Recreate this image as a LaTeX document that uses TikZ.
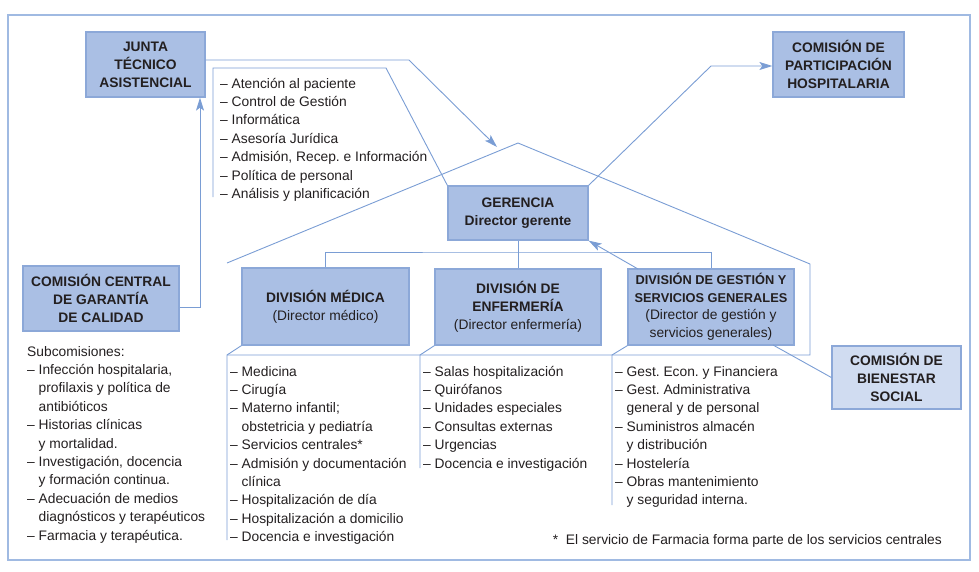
\documentclass[tikz,border=0pt]{standalone}
\usepackage{fontspec}
\setmainfont{Liberation Sans}
\usetikzlibrary{arrows.meta}
\definecolor{boxfill}{RGB}{170,191,228}
\definecolor{boxdraw}{RGB}{140,168,216}
\definecolor{lightfill}{RGB}{208,220,241}
\definecolor{linec}{RGB}{122,157,212}
\definecolor{framec}{RGB}{160,186,226}
\definecolor{txt}{RGB}{35,31,32}
\newcommand\hangin{\hphantom{– }}
\frenchspacing
\begin{document}
\begin{tikzpicture}[x=1pt,y=-1pt,
  box/.style={draw=boxdraw, line width=1.3pt, fill=boxfill, align=center, inner sep=0pt,
    text=txt, font=\fontsize{13.8}{18}\selectfont},
  conn/.style={draw=linec, line width=0.9pt},
  arr/.style={conn, -{Stealth[length=13pt,width=8pt,inset=3pt]}},
  lst/.style={align=left, anchor=north west, inner sep=0pt, text=txt,
    font=\fontsize{13.8}{18.4}\selectfont}]
\useasboundingbox (0,0) rectangle (979,572);
\draw[framec, line width=1.2pt] (8,15) rectangle (970,560);

% boxes
\node[box, minimum width=119pt, minimum height=65pt] (junta) at (145.5,64.5)
  {\textbf{JUNTA}\\\textbf{TÉCNICO}\\\textbf{ASISTENCIAL}};
\node[box, minimum width=131pt, minimum height=65pt] (partic) at (838.5,64.5)
  {\textbf{COMISIÓN DE}\\\textbf{PARTICIPACIÓN}\\\textbf{HOSPITALARIA}};
\node[box, minimum width=140pt, minimum height=54pt] (ger) at (518,213)
  {\textbf{GERENCIA}\\\textbf{Director gerente}};
\node[box, minimum width=156pt, minimum height=65pt] (central) at (101,298.5)
  {\textbf{COMISIÓN CENTRAL}\\\textbf{DE GARANTÍA}\\\textbf{DE CALIDAD}};
\node[box, minimum width=167pt, minimum height=77pt] (med) at (325.5,306.5)
  {\textbf{DIVISIÓN MÉDICA}\\(Director médico)};
\node[box, minimum width=166pt, minimum height=76pt] (enf) at (518,307)
  {\textbf{DIVISIÓN DE}\\\textbf{ENFERMERÍA}\\(Director enfermería)};
\node[box, minimum width=166pt, minimum height=76pt, font=\fontsize{13.8}{17.5}\selectfont] (gest) at (711,307)
  {{\fontsize{12.8}{17.5}\selectfont\textbf{DIVISIÓN DE GESTIÓN Y}}\\{\fontsize{12.8}{17.5}\selectfont\textbf{SERVICIOS GENERALES}}\\(Director de gestión y\\servicios generales)};
\node[box, fill=lightfill, minimum width=129pt, minimum height=63pt] (bien) at (896.5,377.5)
  {\textbf{COMISIÓN DE}\\\textbf{BIENESTAR}\\\textbf{SOCIAL}};

% lists
\node[lst] (staff) at (220,75.1) {\strut– Atención al paciente\\– Control de Gestión\\– Informática\\– Asesoría Jurídica\\– Admisión, Recep. e Información\\– Política de personal\\– Análisis y planificación};
\node[lst] (subc) at (27,343.1) {\strut Subcomisiones:\\– Infección hospitalaria,\\\hangin profilaxis y política de\\\hangin antibióticos\\– Historias clínicas\\\hangin y mortalidad.\\– Investigación, docencia\\\hangin y formación continua.\\– Adecuación de medios\\\hangin diagnósticos y terapéuticos\\– Farmacia y terapéutica.};
\node[lst] (medl) at (230,363.1) {\strut– Medicina\\– Cirugía\\– Materno infantil;\\\hangin obstetricia y pediatría\\– Servicios centrales*\\– Admisión y documentación\\\hangin clínica\\– Hospitalización de día\\– Hospitalización a domicilio\\– Docencia e investigación};
\node[lst] (enfl) at (423,363.1) {\strut– Salas hospitalización\\– Quirófanos\\– Unidades especiales\\– Consultas externas\\– Urgencias\\– Docencia e investigación};
\node[lst] (gestl) at (615,363.1) {\strut– Gest. Econ. y Financiera\\– Gest. Administrativa\\\hangin general y de personal\\– Suministros almacén\\\hangin y distribución\\– Hostelería\\– Obras mantenimiento\\\hangin y seguridad interna.};
\node[anchor=base east, inner sep=0pt, text=txt, font=\fontsize{13.8}{18.4}\selectfont] (foot) at (942,544)
  {*\ \ El servicio de Farmacia forma parte de los servicios centrales};

% coordinates
\coordinate (j1) at (409,60);
\coordinate (jtip) at (497,147);
\coordinate (s1) at (213,197);
\coordinate (s2) at (213,68);
\coordinate (s3) at (386,68);
\coordinate (p1) at (711,66);
\coordinate (c1) at (200,307);
\coordinate (rl) at (227,263);
\coordinate (apex) at (518,143);
\coordinate (rr) at (810,264);
\coordinate (hr) at (810,355);
\coordinate (h1) at (227,355);
\coordinate (h2) at (420,355);
\coordinate (h3) at (612,355);
\coordinate (m1) at (227,540);
\coordinate (e1) at (420,468);
\coordinate (g1) at (612,505);
\coordinate (bar) at (518,252);
\coordinate (ga) at (638,269);
\coordinate (gb) at (773,345);

% connectors
\draw[arr] (junta.east |- j1) -- (j1) -- (jtip);
\draw[conn] (s1) -- (s2) -- (s3) -- (ger.north west);
\draw[arr] (ger.north east) -- (p1) -- (partic.west |- p1);
\draw[arr] (central.east |- c1) -- (c1) -- (c1 |- junta.south);
\draw[conn] (rl) -- (apex) -- (rr) -- (hr) -- (h1);
\draw[conn] (med.south west) -- (h1) -- (m1);
\draw[conn] (enf.south west) -- (h2) -- (e1);
\draw[conn] (gest.south west) -- (h3) -- (g1);
\draw[conn] (ger.south) -- (enf.north);
\draw[conn] (med.north) |- (bar) -| (gest.north);
\draw[arr] (ga) -- (ger.south east);
\draw[conn] (gb) -- (bien.west);
\end{tikzpicture}
\end{document}
